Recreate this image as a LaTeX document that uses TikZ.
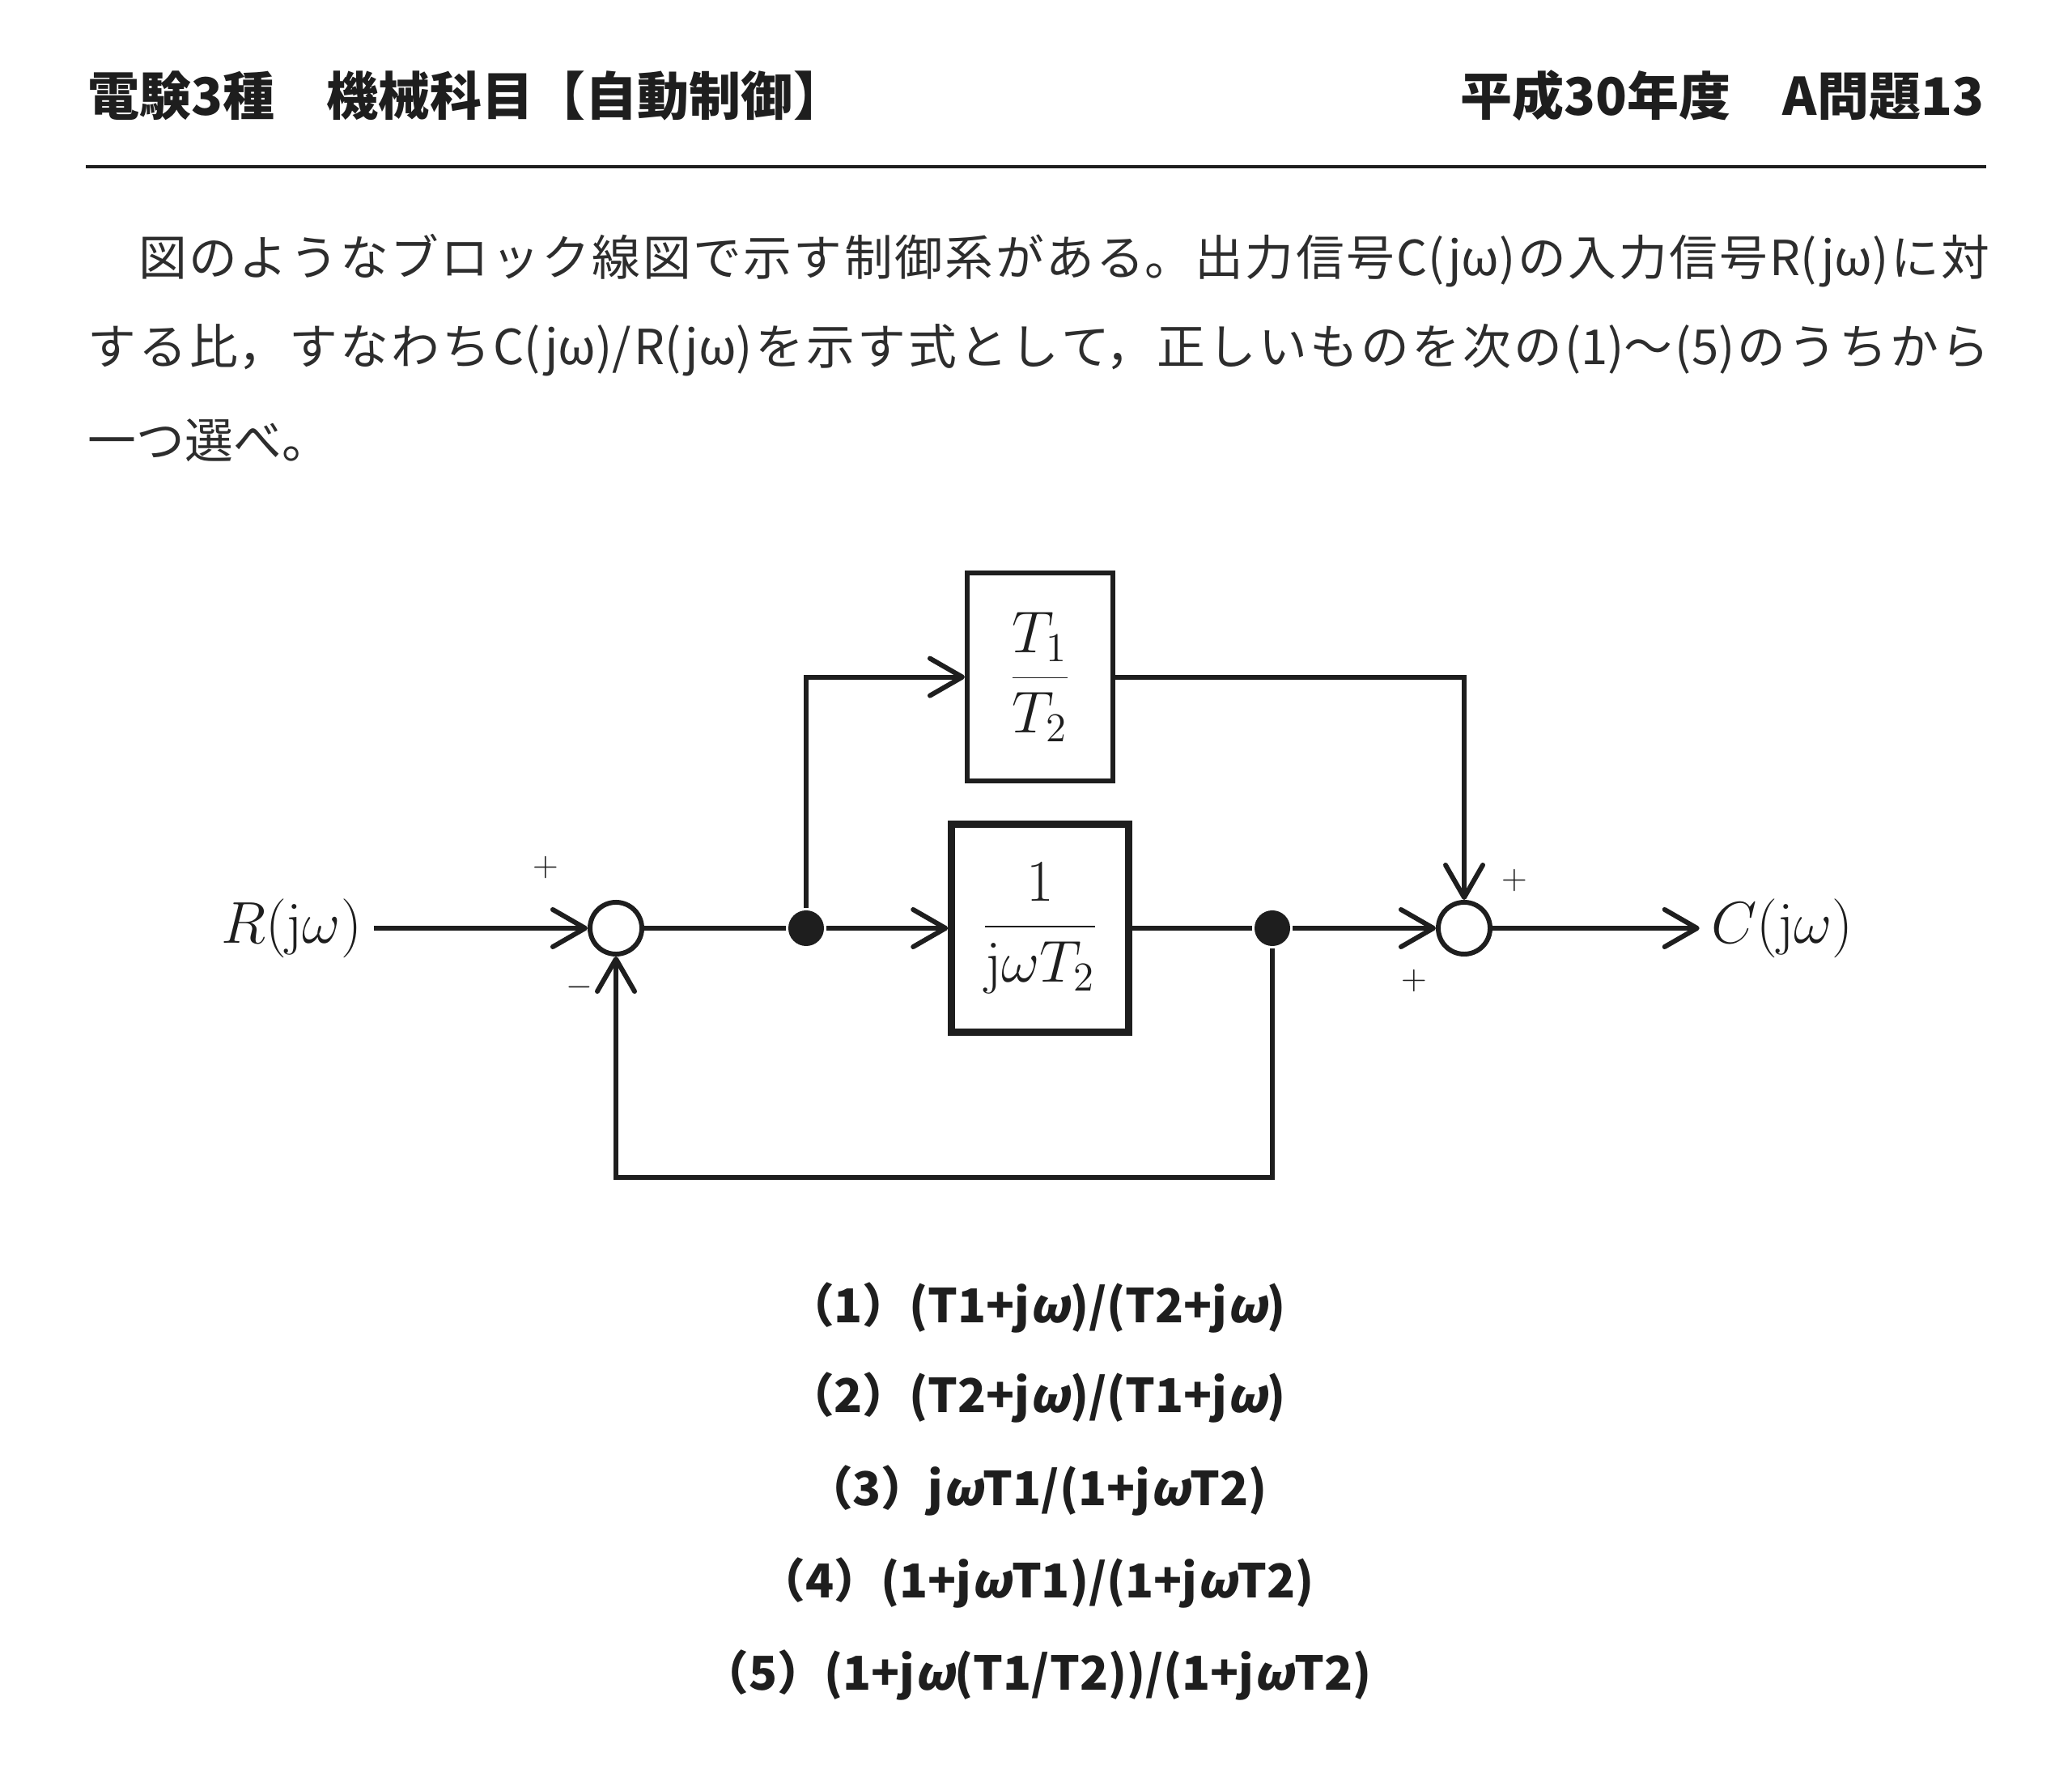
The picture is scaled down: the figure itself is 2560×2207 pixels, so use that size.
\documentclass[tikz,border=0pt]{standalone}
\usepackage[no-math]{fontspec}
\setmainfont{Noto Sans CJK JP}
\newfontfamily\omfont{Noto Sans CJK JP}[FakeSlant=0.2]
\newcommand{\om}{{\omfont ω}}
\definecolor{inkblack}{RGB}{30, 30, 30}
\definecolor{bodygray}{RGB}{45, 45, 45}
\usetikzlibrary{arrows.meta,positioning}
\XeTeXlinebreaklocale "ja"
\XeTeXlinebreakskip=0pt plus 4pt

\begin{document}
\begin{tikzpicture}[x=0.01cm, y=-0.01cm, color=inkblack, line width=1.7pt,
    every node/.style={font=\fontsize{20}{24}\selectfont},
    block/.style={draw, rectangle, inner sep=0pt, fill=white},
    sumpt/.style={draw, circle, minimum size=0.64cm, inner sep=0pt, fill=white},
    junction/.style={circle, fill=inkblack, minimum size=0.44cm, inner sep=0pt},
    sign/.style={font=\fontsize{13}{15}\selectfont, inner sep=0pt},
    sig/.style={-{Straight Barb[length=4mm, width=4.6mm, round]}},
    head/.style={inner sep=0pt, font=\fontsize{18.2}{20}\selectfont\bfseries},
    body/.style={inner sep=0pt, anchor=west, text=bodygray, font=\fontsize{17}{20}\selectfont},
    ans/.style={inner sep=0pt, font=\fontsize{16.4}{19}\selectfont\bfseries}]
    \useasboundingbox (0,0) rectangle (2560,2207);

    \node[head, anchor=west] (ttl) at (106,118) {電験3種　機械科目【自動制御】};
    \node[head, anchor=east] (qno) at (2454,118) {平成30年度　A問題13};
    \draw[line width=1.4pt] (106,206) -- (2454,206);

    \node[body] (l1) at (106,322) {\parbox{23.48cm}{\parfillskip=0pt\noindent　図のようなブロック線図で示す制御系がある。出力信号C(jω)の入力信号R(jω)に対}};
    \node[body] (l2) at (106,433) {\parbox{23.48cm}{\parfillskip=0pt\noindent する比，すなわちC(jω)/R(jω)を示す式として，正しいものを次の(1)〜(5)のうちから}};
    \node[body] (l3) at (106,544) {一つ選べ。};

    \node (rin) at (360,1147) {$R(\mathrm{j}\omega)$};
    \node[sumpt] (s1) at (761,1147) {};
    \node[junction] (d1) at (996,1147) {};
    \node[block, line width=2.4pt, minimum width=2.19cm, minimum height=2.57cm] (g) at (1285,1147) {$\displaystyle\frac{1}{\mathrm{j}\omega T_2}$};
    \node[block, minimum width=1.80cm, minimum height=2.57cm, above=0.46cm of g] (h) {$\displaystyle\frac{T_1}{T_2}$};
    \node[junction] (d2) at (1572,1147) {};
    \node[sumpt] (s2) at (1809,1147) {};
    \node (cout) at (2202,1147) {$C(\mathrm{j}\omega)$};
    \coordinate (fbr) at (1572,1455);
    \coordinate (fbl) at (761,1455);

    \node[sign] (p1) at (674,1072) {$+$};
    \node[sign] (m1) at (716,1220) {$-$};
    \node[sign] (p2) at (1871,1088) {$+$};
    \node[sign] (p3) at (1747,1212) {$+$};

    \draw[sig] (rin) -- (s1);
    \draw (s1) -- (d1);
    \draw[sig] (d1) -- (g);
    \draw[sig] (d1) |- (h);
    \draw[sig] (h) -| (s2);
    \draw (g) -- (d2);
    \draw[sig] (d2) -- (s2);
    \draw[sig] (s2) -- (cout);
    \draw[sig] (d2) -- (fbr) -- (fbl) -- (s1);

    \node[ans] (a1) at (1281,1616) {（1）(T1+j\om)/(T2+j\om)};
    \node[ans] (a2) at (1281,1727) {（2）(T2+j\om)/(T1+j\om)};
    \node[ans] (a3) at (1281,1842) {（3）j\om T1/(1+j\om T2)};
    \node[ans] (a4) at (1281,1956) {（4）(1+j\om T1)/(1+j\om T2)};
    \node[ans] (a5) at (1281,2070) {（5）(1+j\om(T1/T2))/(1+j\om T2)};
\end{tikzpicture}
\end{document}
